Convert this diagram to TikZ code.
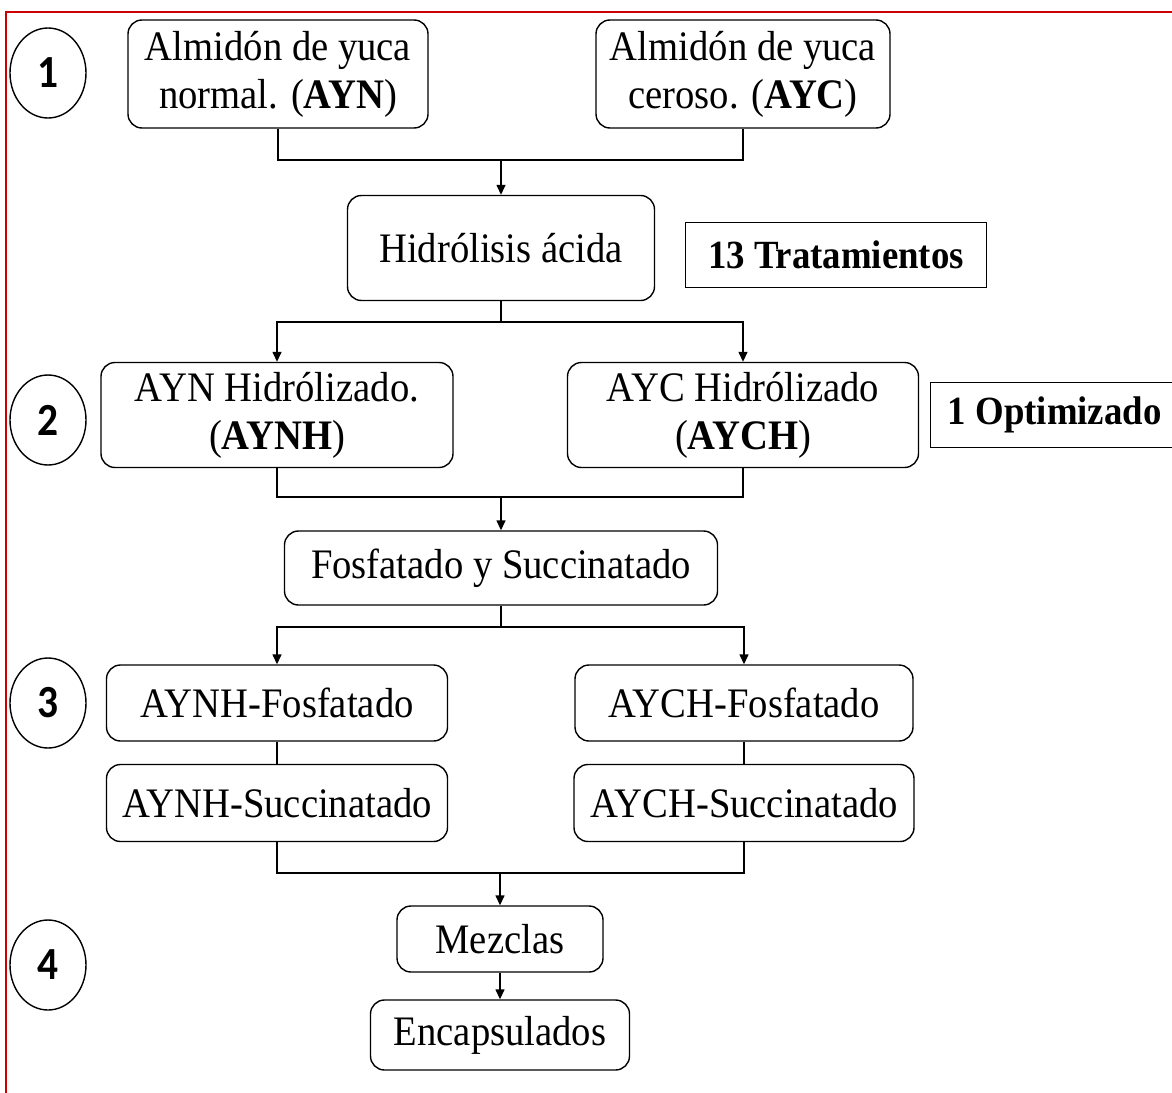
\documentclass[tikz,border=0pt]{standalone}
\usepackage{fontspec}
\setmainfont{Liberation Serif}[FakeStretch=0.92]
\newfontfamily\numfont{Carlito}[FakeStretch=0.9]
\usetikzlibrary{arrows.meta, shapes.geometric, positioning}

\begin{document}
\begin{tikzpicture}[
        x=1pt, y=-1pt,
        procBox/.style={
            rectangle, rounded corners=14pt, draw=black, line width=1.4pt,
            align=center, inner sep=0pt,
            font=\fontsize{42}{48}\selectfont
        },
        noteBox/.style={
            rectangle, draw=black, line width=1.4pt, inner sep=0pt,
            minimum height=65pt, font=\fontsize{40}{46}\selectfont\bfseries
        },
        stepMark/.style={
            ellipse, draw=black, line width=1.4pt, inner sep=0pt,
            minimum width=76pt, minimum height=90pt,
            font=\numfont\fontsize{46}{46}\selectfont\bfseries
        },
        link/.style={
            line width=1.4pt, draw=black
        },
        arrow/.style={
            link, -{Triangle[length=10pt,width=9pt]}
        }
    ]
        \useasboundingbox (0,0) rectangle (1172,1092);
        \draw [red!80!black, line width=2pt] (6,12) rectangle (1195,1115);

        % Step marks
        \node (step1) [stepMark] at (48,73) {1};
        \node (step2) [stepMark] at (48,420) {2};
        \node (step3) [stepMark] at (48,703) {3};
        \node (step4) [stepMark] at (48,965) {4};

        % Nodes
        \node (ayn) [procBox, minimum width=300pt, minimum height=108pt] at (278,74) {Almidón de yuca\\normal. (\textbf{AYN})};
        \node (ayc) [procBox, minimum width=294pt, minimum height=108pt] at (743,74) {Almidón de yuca\\ceroso. (\textbf{AYC})};
        \node (hidro) [procBox, minimum width=307pt, minimum height=105pt] at (501,248) {Hidrólisis ácida};
        \node (trat) [noteBox, minimum width=301pt] at (836,255) {13 Tratamientos};
        \node (aynh) [procBox, minimum width=352pt, minimum height=105pt] at (277,415) {AYN Hidrólizado.\\(\textbf{AYNH})};
        \node (aych) [procBox, minimum width=351pt, minimum height=105pt] at (743,415) {AYC Hidrólizado\\(\textbf{AYCH})};
        \node (optim) [noteBox, anchor=west, minimum width=248pt] at (930,415) {1 Optimizado};
        \node (fosf) [procBox, minimum width=433pt, minimum height=74pt] at (501,568) {Fosfatado y Succinatado};
        \node (aynhF) [procBox, minimum width=341pt, minimum height=76pt] at (277,703) {AYNH-Fosfatado};
        \node (aychF) [procBox, minimum width=338pt, minimum height=76pt] at (744,703) {AYCH-Fosfatado};
        \node (aynhS) [procBox, minimum width=341pt, minimum height=77pt] at (277,803) {AYNH-Succinatado};
        \node (aychS) [procBox, minimum width=340pt, minimum height=77pt] at (744,803) {AYCH-Succinatado};
        \node (mezcla) [procBox, minimum width=206pt, minimum height=66pt] at (500,939) {Mezclas};
        \node (encap) [procBox, minimum width=259pt, minimum height=70pt] at (500,1035) {Encapsulados};

        % Junctions
        \coordinate (j1) at (501,160);
        \coordinate (j2) at (501,322);
        \coordinate (j3) at (501,497);
        \coordinate (j4) at (501,627);
        \coordinate (j5) at (500,873);

        % Arrows
        \draw [link] (ayn) |- (j1) -| (ayc);
        \draw [arrow] (j1) -- (hidro);
        \draw [link] (hidro) -- (j2);
        \draw [arrow] (j2) -| (aynh);
        \draw [arrow] (j2) -| (aych);
        \draw [link] (aynh) |- (j3) -| (aych);
        \draw [arrow] (j3) -- (fosf);
        \draw [link] (fosf) -- (j4);
        \draw [arrow] (j4) -| (aynhF);
        \draw [arrow] (j4) -| (aychF);
        \draw [link] (aynhF) -- (aynhS);
        \draw [link] (aychF) -- (aychS);
        \draw [link] (aynhS) |- (j5) -| (aychS);
        \draw [arrow] (j5) -- (mezcla);
        \draw [arrow] (mezcla) -- (encap);
    \end{tikzpicture}
\end{document}
